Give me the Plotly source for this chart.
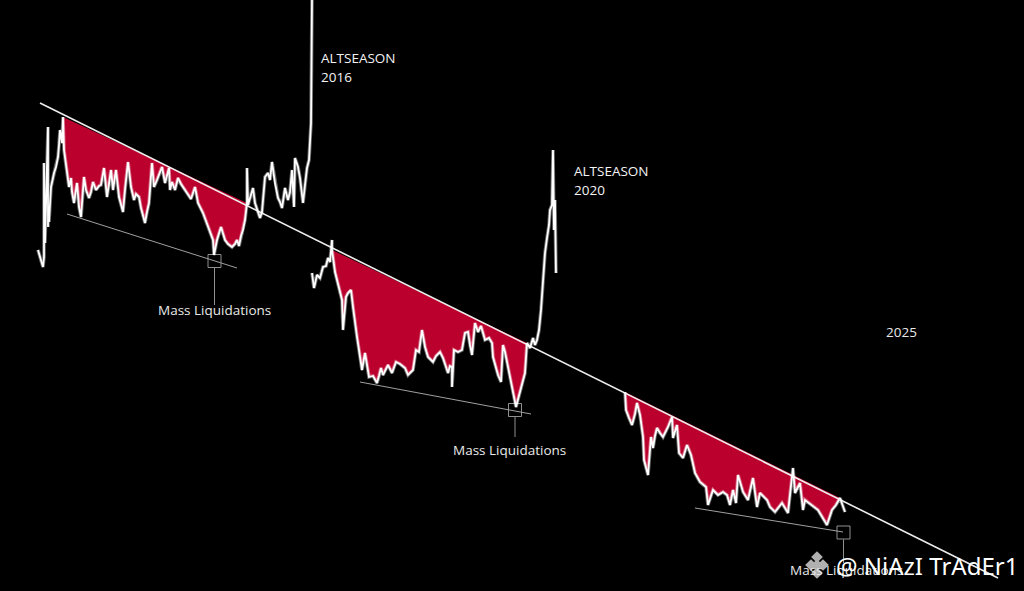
import plotly.graph_objects as go

# --- price series (x = chart position, y = chart level) ---
c1_pre_x = [38,40,43,44,44,45,46,48,48,48,49,51,53,54,56,58,59,60,62]
c1_pre_y = [250,256,267,257,163,243,210,127,227,205,222,187,178,173,167,157,145,130,143]
c1_fall_x = [63,64,66,67,69,71,72,74,76,77,79,81,84,86,89,91,93,96,99,101,104,107,109,111,113,116,119,123,125,128,131,134,136,139,141,143,145,147,149,152,154,157,162,165,169,170,172,175,178,181,183,188,191,195,198,203,208,213,214,217,221,225,228,232,235,237,239,241,243,245,247]
c1_fall_y = [117,150,165,173,187,178,192,203,190,183,207,217,177,190,198,192,182,190,186,185,168,197,184,170,190,170,197,212,190,162,187,200,194,197,208,217,223,212,203,163,187,180,167,183,168,190,182,190,178,184,187,195,199,187,203,213,227,240,255,240,227,240,244,247,244,240,246,236,230,220,203]
c1_post_x = [247,248,250,253,255,258,260,262,265,268,270,272,275,278,280,282,285,288,290,292,294,295,298,300,303,305,307,309,310,311,312]
c1_post_y = [168,205,198,188,203,212,218,212,177,173,180,162,183,198,202,208,188,200,192,170,207,158,167,178,203,185,168,160,140,123,0]

c2_pre_x = [312,314,317,320,323,326,328,330,332]
c2_pre_y = [273,288,275,278,267,266,258,262,240]
c2_fall_x = [332,335,338,340,342,343,346,348,351,353,355,357,359,362,365,367,369,373,377,379,381,383,388,392,396,400,405,408,413,416,419,422,425,428,433,436,440,443,448,450,452,452,454,458,462,465,468,470,472,475,478,481,485,489,492,493,498,501,503,505,507,512,516,520,525,527]
c2_fall_y = [250,272,283,292,300,330,297,293,290,307,325,337,350,370,353,365,377,376,383,376,368,375,365,373,362,364,368,375,370,350,352,330,347,357,362,356,352,358,373,366,367,387,350,352,350,333,332,345,355,323,332,326,340,338,343,357,375,382,345,352,363,387,407,393,373,343]
c2_post_x = [530,533,535,537,539,541,543,545,547,549,550,552,553,554,555,556]
c2_post_y = [348,338,345,340,330,310,275,253,238,225,210,205,150,230,200,273]

c3_fall_x = [625,626,629,632,635,637,640,643,644,646,648,651,653,655,657,660,663,668,672,673,677,679,683,687,691,695,700,706,708,713,718,723,727,730,733,736,738,743,748,753,757,760,767,770,775,782,788]
c3_fall_y = [392,410,418,425,414,403,415,437,460,468,475,437,448,436,428,433,437,427,417,438,425,453,458,445,455,473,482,487,505,490,495,492,495,505,490,503,475,492,500,478,507,493,500,507,512,503,513]
c3_rest_x = [793,795,800,803,805,812,818,827,832,836,840,845]
c3_rest_y = [468,493,483,510,500,505,510,525,510,505,498,512]

# trend line end points
trend_x = [40,998]
trend_y = [103,578]

# lower support lines
sup1_x, sup1_y = [67,237], [214,268]
sup2_x, sup2_y = [360,531], [382,414]
sup3_x, sup3_y = [695,843], [508,532]

# liquidation boxes and their stems
box_x = [214.5,515,843.5]
box_y = [261,410,532.5]
stem_end = [305,437,563]

labels_alt = [("ALTSEASON",319,58),("2016",319,77),("ALTSEASON",572,171),("2020",572,190)]
labels_liq = [(214,310),(509,450),(846,570)]

# Binance-style logo diamonds
logo_x = [817,811,823,817,817]
logo_y = [565,565,565,557,573]

RED = "#BB002D"
WHITE = "#FFFFFF"
GREY = "#A0A0A0"

fig = go.Figure()

wedges = [
    (c1_fall_x, c1_fall_y),
    (c2_fall_x, c2_fall_y),
    (c3_fall_x + c3_rest_x[:-1], c3_fall_y + c3_rest_y[:-1]),
]
for fx, fy in wedges:
    fig.add_trace(go.Scatter(x=fx, y=fy, mode="lines", fill="toself",
                             fillcolor=RED, line=dict(width=0, color=RED), hoverinfo="skip"))

fig.add_trace(go.Scatter(x=trend_x, y=trend_y, mode="lines", line=dict(color="#EDEDED", width=1.6)))

for sx, sy in [(sup1_x, sup1_y), (sup2_x, sup2_y), (sup3_x, sup3_y)]:
    fig.add_trace(go.Scatter(x=sx, y=sy, mode="lines", line=dict(color=GREY, width=1)))

for bx, by, se in zip(box_x, box_y, stem_end):
    fig.add_trace(go.Scatter(x=[bx], y=[by], mode="markers",
                             marker=dict(symbol="square-open", size=13, color=GREY, line=dict(width=0.9))))
    fig.add_trace(go.Scatter(x=[bx, bx], y=[by+7, se], mode="lines", line=dict(color=GREY, width=0.9)))

prices = [(c1_pre_x + c1_fall_x + c1_post_x, c1_pre_y + c1_fall_y + c1_post_y),
          (c2_pre_x + c2_fall_x + c2_post_x, c2_pre_y + c2_fall_y + c2_post_y),
          (c3_fall_x + c3_rest_x, c3_fall_y + c3_rest_y)]
for px, py in prices:
    fig.add_trace(go.Scatter(x=px, y=py, mode="lines", opacity=0.4,
                             line=dict(color=WHITE, width=3.6)))
    fig.add_trace(go.Scatter(x=px, y=py, mode="lines", line=dict(color=WHITE, width=1.8)))

fig.add_trace(go.Scatter(x=logo_x, y=logo_y, mode="markers",
                         marker=dict(symbol="diamond", size=9, color="#B0B0B0")))

FONT = "Open Sans"
ann = []
for t, x, y in labels_alt:
    ann.append(dict(x=x, y=y, text=t, xanchor="left", yanchor="middle", showarrow=False,
                    font=dict(family=FONT, size=13.5, color="#F4F4F4")))
for x, y in labels_liq:
    ann.append(dict(x=x, y=y, text="Mass Liquidations", xanchor="center", yanchor="middle", showarrow=False,
                    font=dict(family=FONT, size=13.5, color="#E8E8E8")))
ann.append(dict(x=884, y=332, text="2025", xanchor="left", yanchor="middle", showarrow=False,
                font=dict(family=FONT, size=13.5, color="#E8E8E8")))
ann.append(dict(x=834, y=565, text="@ NiAzI TrAdEr1", xanchor="left", yanchor="middle", showarrow=False,
                font=dict(family="Noto Sans", size=24, color="#FFFFFF")))

fig.update_layout(
    width=1024, height=591, margin=dict(l=0, r=0, t=0, b=0),
    paper_bgcolor="#000000", plot_bgcolor="#000000", showlegend=False,
    xaxis=dict(range=[0,1024], visible=False, fixedrange=True),
    yaxis=dict(range=[591,0], visible=False, fixedrange=True),
    annotations=ann, hovermode=False,
)

fig.write_html("out.html", post_script="document.body.style.margin='0';document.documentElement.style.background='#000';",
               config=dict(displayModeBar=False))
